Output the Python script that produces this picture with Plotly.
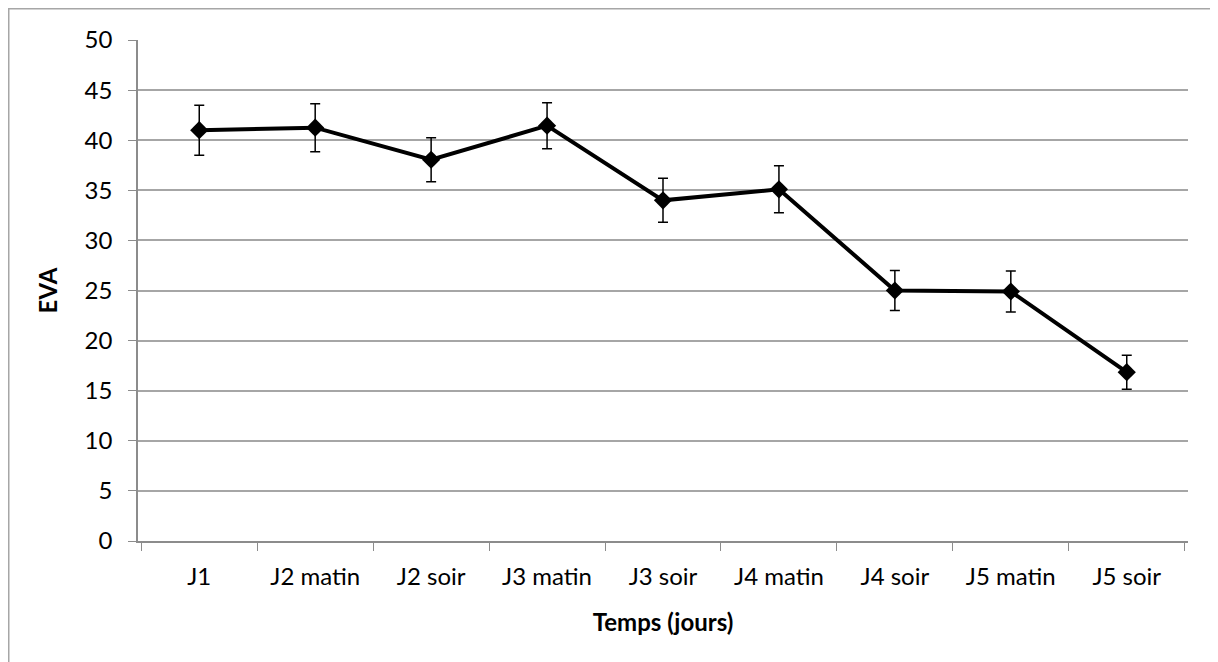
import plotly.graph_objects as go

categories = ["J1", "J2 matin", "J2 soir", "J3 matin", "J3 soir", "J4 matin", "J4 soir", "J5 matin", "J5 soir"]
eva_values = [41.0, 41.25, 38.05, 41.45, 34.0, 35.1, 25.0, 24.9, 16.85]
eva_errors = [2.5, 2.4, 2.2, 2.3, 2.2, 2.35, 2.0, 2.05, 1.7]
y_ticks = [0, 5, 10, 15, 20, 25, 30, 35, 40, 45, 50]

FONT = "Lato"
OFF = 8  # page body margin
W, H = 1210, 654
L, T = 138 - OFF, 40 - OFF
pw, ph = 1050, 501
R = W - L - pw
B = H - T - ph

fig = go.Figure()
fig.add_trace(go.Scatter(
    x=categories, y=eva_values, mode="lines+markers",
    line=dict(color="black", width=4),
    marker=dict(symbol="diamond", size=14, color="black"),
    error_y=dict(type="data", array=eva_errors, visible=True, color="black", thickness=1.5, width=5),
    showlegend=False,
))

fig.update_layout(
    width=W, height=H,
    margin=dict(l=L, r=R, t=T, b=B),
    paper_bgcolor="white", plot_bgcolor="white",
    font=dict(family=FONT, size=24, color="black"),
    xaxis=dict(
        type="category", tickson="boundaries", ticks="outside", ticklen=8, tickcolor="#8c8c8c",
        showline=True, linecolor="#8c8c8c", linewidth=1.5, showgrid=False,
        title=dict(text="<b>Temps (jours)</b>", font=dict(size=24), standoff=26),
        ticklabelstandoff=13,
    ),
    yaxis=dict(
        range=[0, 50], tickvals=y_ticks, ticks="outside", ticklen=8, tickcolor="#8c8c8c",
        showline=True, linecolor="#8c8c8c", linewidth=1.5,
        showgrid=True, gridcolor="#a6a6a6", gridwidth=1.5, zeroline=False,
        title=dict(text="<b>EVA</b>", font=dict(size=24), standoff=20),
        ticklabelstandoff=11,
    ),
    shapes=[dict(
        type="rect", xref="paper", yref="paper",
        x0=(0.75 - L) / pw, x1=(1208.5 - L) / pw,
        y0=-0.4, y1=(T - 0.75) / ph + 1,
        line=dict(color="#a6a6a6", width=1.5), fillcolor="rgba(0,0,0,0)", layer="below",
    )],
)

fig.write_html("out.html")
